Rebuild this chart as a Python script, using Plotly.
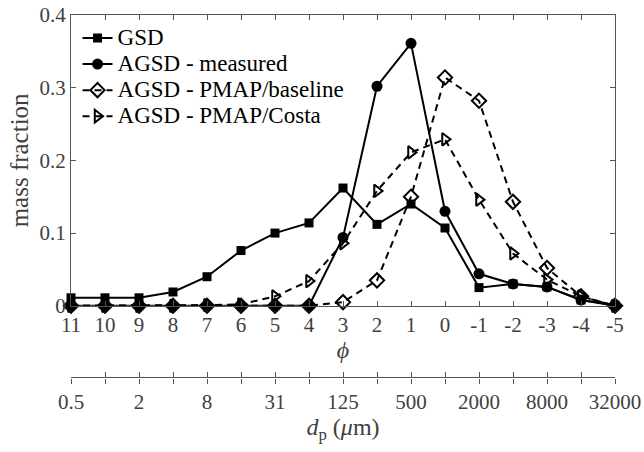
import plotly.graph_objects as go

phi = [11, 10, 9, 8, 7, 6, 5, 4, 3, 2, 1, 0, -1, -2, -3, -4, -5]
phi_labels = ["11", "10", "9", "8", "7", "6", "5", "4", "3", "2", "1", "0", "-1", "-2", "-3", "-4", "-5"]
dp_phi = [11, 9, 7, 5, 3, 1, -1, -3, -5]
dp_labels = ["0.5", "2", "8", "31", "125", "500", "2000", "8000", "32000"]

gsd = [0.011, 0.011, 0.011, 0.019, 0.040, 0.076, 0.100, 0.114, 0.162, 0.112, 0.140, 0.107, 0.025, 0.030, 0.026, 0.008, 0.001]
measured = [0, 0, 0, 0, 0, 0, 0, 0, 0.094, 0.302, 0.361, 0.130, 0.044, 0.030, 0.026, 0.008, 0.0]
baseline = [0, 0, 0, 0, 0, 0, 0, 0, 0.005, 0.035, 0.150, 0.314, 0.282, 0.143, 0.052, 0.013, 0.0]
costa = [0, 0, 0, 0, 0.001, 0.002, 0.013, 0.034, 0.086, 0.158, 0.211, 0.229, 0.146, 0.072, 0.036, 0.013, 0.0]

names = ["GSD", "AGSD - measured", "AGSD - PMAP/baseline", "AGSD - PMAP/Costa"]

FONT = "Liberation Serif"
TXT = "#404040"
AX = "#555555"
LEG = '<span style="font-size:23px">%s</span>'

fig = go.Figure()
fig.add_trace(go.Scatter(x=phi, y=gsd, name=LEG % names[0], mode="lines+markers",
                         line=dict(color="black", width=2),
                         marker=dict(symbol="square", size=9, color="black"), cliponaxis=False))
fig.add_trace(go.Scatter(x=phi, y=measured, name=LEG % names[1], mode="lines+markers",
                         line=dict(color="black", width=2),
                         marker=dict(symbol="circle", size=11, color="black"), cliponaxis=False))
fig.add_trace(go.Scatter(x=phi, y=baseline, name=LEG % names[2], mode="lines+markers",
                         line=dict(color="black", width=2, dash="7px,5px"),
                         marker=dict(symbol="diamond-open", size=11, color="black", line=dict(width=2)),
                         cliponaxis=False))
fig.add_trace(go.Scatter(x=phi, y=costa, name=LEG % names[3], mode="lines+markers",
                         line=dict(color="black", width=2, dash="7px,5px"),
                         marker=dict(symbol="triangle-right-open", size=11, color="black", line=dict(width=2)),
                         cliponaxis=False))
# carriers for the secondary d_p axis
fig.add_trace(go.Scatter(x=[phi[0], phi[-1]], y=[None, None], xaxis="x2", yaxis="y",
                         showlegend=False, hoverinfo="skip", mode="lines"))
fig.add_trace(go.Scatter(x=[phi[0], phi[-1]], y=[None, None], xaxis="x3", yaxis="y",
                         showlegend=False, hoverinfo="skip", mode="lines"))

H = 452
T = 15
paperH = H - T
ydom0 = (H - 314) / paperH
pos2 = (H - 387.7) / paperH

TICKFONT = dict(family=FONT, size=21, color=TXT)
common = dict(range=[11, -5], autorange=False, showgrid=False, zeroline=False,
              showline=True, linecolor=AX, linewidth=1.3, tickcolor=AX, tickwidth=1.3,
              tickfont=TICKFONT)

fig.update_layout(
    width=644, height=452,
    margin=dict(l=71, r=29, t=T, b=0),
    paper_bgcolor="white", plot_bgcolor="white",
    font=dict(family=FONT, size=20, color=TXT),
    xaxis=dict(**common, domain=[0, 1], anchor="y", mirror="ticks", ticks="inside", ticklen=5,
               tickvals=phi, ticktext=phi_labels,
               title=dict(text="<i>ϕ</i>", font=dict(family=FONT, size=24, color=TXT), standoff=5)),
    xaxis2=dict(**common, overlaying="x", anchor="free", position=pos2, side="bottom",
                ticks="outside", ticklen=5, tickvals=dp_phi, ticktext=dp_labels,
                minor=dict(tickmode="array", tickvals=phi, ticks="outside", ticklen=5,
                           tickcolor=AX, tickwidth=1.3, showgrid=False),
                title=dict(text="<i>d</i><sub>p</sub> (<i>μ</i>m)", font=dict(family=FONT, size=24, color=TXT), standoff=3)),
    xaxis3=dict(**common, overlaying="x", anchor="free", position=pos2, side="bottom",
                ticks="inside", ticklen=5, tickvals=phi, showticklabels=False),
    yaxis=dict(range=[0, 0.4], autorange=False, domain=[ydom0, 1], anchor="x",
               showgrid=False, zeroline=False, showline=True, linecolor=AX, linewidth=1.3,
               mirror="ticks", ticks="inside", ticklen=5, tickcolor=AX, tickwidth=1.3,
               tickvals=[0, 0.1, 0.2, 0.3, 0.4], ticktext=["0", "0.1", "0.2", "0.3", "0.4"],
               tickfont=TICKFONT,
               title=dict(text="mass fraction", font=dict(family=FONT, size=25, color=TXT), standoff=3)),
    legend=dict(x=0.012, y=0.988, xanchor="left", yanchor="top", bgcolor="rgba(0,0,0,0)",
                borderwidth=0, font=dict(family=FONT, size=17.7, color="black"), tracegroupgap=0),
    showlegend=True,
)

fig.write_html("out.html")
